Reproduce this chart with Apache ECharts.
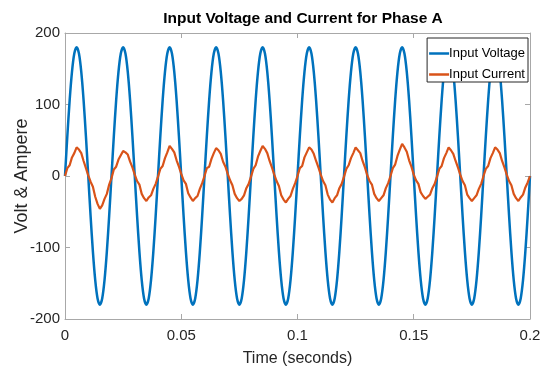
<!DOCTYPE html>
<html>
<head>
<meta charset="utf-8">
<script src="https://cdn.jsdelivr.net/npm/echarts@6/dist/echarts.min.js"></script>
<style>html,body{margin:0;padding:0;background:#fff}#c{width:544px;height:374px}</style>
</head>
<body>
<div id="c"></div>
<script>
const titleText = 'Input Voltage and Current for Phase A';
const xAxisName = 'Time (seconds)';
const yAxisName = 'Volt & Ampere';
const seriesNames = ['Input Voltage', 'Input Current'];
const sampleStep = 0.001; // seconds between samples
const xTicks = [0, 0.05, 0.1, 0.15, 0.2];
const yTicks = [-200, -100, 0, 100, 200];

const voltage = [
0,55.6,105.8,145.6,171.2,180,171.2,145.6,105.8,55.6,0,-55.6,-105.8,-145.6,-171.2,-180,-171.2,-145.6,-105.8,-55.6,
0,55.6,105.8,145.6,171.2,180,171.2,145.6,105.8,55.6,0,-55.6,-105.8,-145.6,-171.2,-180,-171.2,-145.6,-105.8,-55.6,
0,55.6,105.8,145.6,171.2,180,171.2,145.6,105.8,55.6,0,-55.6,-105.8,-145.6,-171.2,-180,-171.2,-145.6,-105.8,-55.6,
0,55.6,105.8,145.6,171.2,180,171.2,145.6,105.8,55.6,0,-55.6,-105.8,-145.6,-171.2,-180,-171.2,-145.6,-105.8,-55.6,
0,55.6,105.8,145.6,171.2,180,171.2,145.6,105.8,55.6,0,-55.6,-105.8,-145.6,-171.2,-180,-171.2,-145.6,-105.8,-55.6,
0,55.6,105.8,145.6,171.2,180,171.2,145.6,105.8,55.6,0,-55.6,-105.8,-145.6,-171.2,-180,-171.2,-145.6,-105.8,-55.6,
0,55.6,105.8,145.6,171.2,180,171.2,145.6,105.8,55.6,0,-55.6,-105.8,-145.6,-171.2,-180,-171.2,-145.6,-105.8,-55.6,
0,55.6,105.8,145.6,171.2,180,171.2,145.6,105.8,55.6,0,-55.6,-105.8,-145.6,-171.2,-180,-171.2,-145.6,-105.8,-55.6,
0,55.6,105.8,145.6,171.2,180,171.2,145.6,105.8,55.6,0,-55.6,-105.8,-145.6,-171.2,-180,-171.2,-145.6,-105.8,-55.6,
0,55.6,105.8,145.6,171.2,180,171.2,145.6,105.8,55.6,0,-55.6,-105.8,-145.6,-171.2,-180,-171.2,-145.6,-105.8,-55.6,
0
];

const current = [
0,11,15,26,32,40,37,32,21,11,1,-8,-15,-29,-39,-46,-41,-32,-25,-12,
-3,9,13,23,29,35,33,30,20,12,2,-7,-12,-25,-31,-35,-30,-27,-18,-11,
-1,10,14,25,33,42,38,33,22,13,3,-6,-11,-24,-30,-35,-31,-28,-18,-10,
0,11,13,24,32,39,36,31,20,13,3,-6,-13,-25,-31,-35,-32,-27,-17,-11,
-1,10,15,27,35,42,38,32,21,12,2,-7,-14,-27,-33,-37,-32,-28,-18,-10,
0,11,14,26,33,40,37,31,21,12,2,-7,-13,-26,-33,-37,-31,-27,-17,-11,
-1,10,15,25,32,40,36,32,21,12,1,-7,-12,-25,-31,-35,-31,-27,-17,-10,
0,11,16,28,37,45,40,34,22,13,2,-6,-11,-23,-28,-32,-29,-26,-17,-11,
-1,10,14,25,32,40,36,31,21,12,2,-7,-13,-26,-31,-35,-31,-27,-18,-11,
0,10,14,25,32,40,37,32,21,12,2,-7,-13,-25,-31,-35,-30,-26,-16,-9,
0
];

const toPairs = arr => arr.map((v, i) => [+(i * sampleStep).toFixed(4), v]);

const txt = '#262626';
const axisCol = '#a8a8a8';
const font = '"Liberation Sans", Arial, sans-serif';

const chart = echarts.init(document.getElementById('c'), null, {renderer: 'canvas'});
const baseX = {
  type: 'value', min: xTicks[0], max: xTicks[xTicks.length - 1], interval: 0.05,
  axisLine: {show: true, onZero: false, lineStyle: {color: axisCol, width: 1}},
  axisTick: {show: true, inside: true, length: 5, lineStyle: {color: axisCol}},
  splitLine: {show: false}
};
const baseY = {
  type: 'value', min: yTicks[0], max: yTicks[yTicks.length - 1], interval: 100,
  axisLine: {show: true, onZero: false, lineStyle: {color: axisCol, width: 1}},
  axisTick: {show: true, inside: true, length: 5, lineStyle: {color: axisCol}},
  splitLine: {show: false}
};
chart.setOption({
  animation: false,
  backgroundColor: '#fff',
  title: {
    text: titleText, left: 298, top: 6, textAlign: 'center',
    textStyle: {fontFamily: font, fontSize: 15.5, fontWeight: 'bold', color: '#000'}
  },
  grid: {left: 65, right: 14, top: 33, bottom: 55, containLabel: false, outerBoundsMode: 'none'},
  legend: {
    orient: 'vertical', right: 16, top: 38,
    data: seriesNames,
    icon: 'rect', itemWidth: 20, itemHeight: 2.5, itemGap: 8,
    backgroundColor: '#fff', borderColor: '#262626', borderWidth: 1,
    padding: [9, 3, 1, 2],
    textStyle: {fontFamily: font, fontSize: 13, color: '#000', padding: [0, 0, 0, -5]}
  },
  xAxis: [
    Object.assign({}, baseX, {
      position: 'bottom',
      name: xAxisName, nameLocation: 'middle', nameGap: 32, nameMoveOverlap: false,
      nameTextStyle: {fontFamily: font, fontSize: 16, color: txt},
      axisLabel: {fontFamily: font, fontSize: 15, color: txt, margin: 9}
    }),
    Object.assign({}, baseX, {position: 'top', axisLabel: {show: false}})
  ],
  yAxis: [
    Object.assign({}, baseY, {
      position: 'left',
      name: yAxisName, nameLocation: 'middle', nameGap: 34, nameRotate: 90, nameMoveOverlap: false,
      nameTextStyle: {fontFamily: font, fontSize: 18, color: txt},
      axisLabel: {fontFamily: font, fontSize: 15, color: txt, margin: 5}
    }),
    Object.assign({}, baseY, {position: 'right', axisLabel: {show: false}})
  ],
  series: [
    {
      name: seriesNames[0], type: 'line', data: toPairs(voltage), xAxisIndex: 0, yAxisIndex: 0,
      showSymbol: false, symbol: 'none', smooth: 0.3,
      lineStyle: {color: '#0072BD', width: 2.5}, itemStyle: {color: '#0072BD'}
    },
    {
      name: seriesNames[1], type: 'line', data: toPairs(current), xAxisIndex: 0, yAxisIndex: 0,
      showSymbol: false, symbol: 'none',
      lineStyle: {color: '#D95319', width: 2.2}, itemStyle: {color: '#D95319'}
    }
  ]
});
</script>
</body>
</html>
